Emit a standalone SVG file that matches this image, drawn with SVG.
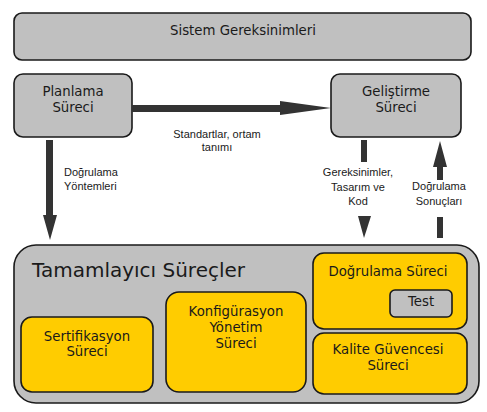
<svg xmlns="http://www.w3.org/2000/svg" width="487" height="412" viewBox="0 0 487 412">
<style>
.g{fill:#c0c0c0;stroke:#1a1a1a;stroke-width:1.6}
.y{fill:#ffcc00;stroke:#1a1a1a;stroke-width:1.6}
.t{font-family:"DejaVu Sans",Verdana,sans-serif;font-size:13.3px;fill:#1a1a1a;text-anchor:middle}
.l{font-family:"Liberation Sans",Arial,sans-serif;font-size:11px;fill:#1a1a1a}
.a{fill:#333}
</style>
<rect width="487" height="412" fill="#fff"/>
<g id="sistem"><rect class="g" x="14" y="13" width="457" height="47" rx="8"/><text class="t" x="243" y="35">Sistem Gereksinimleri</text></g>
<g id="planlama"><rect class="g" x="14" y="74" width="118" height="63" rx="9"/><text class="t" x="73" y="96">Planlama</text><text class="t" x="73" y="112">Süreci</text></g>
<g id="gelistirme"><rect class="g" x="331" y="74" width="130" height="63" rx="9"/><text class="t" x="396" y="96">Geliştirme</text><text class="t" x="396" y="112">Süreci</text></g>
<g id="tamamlayici"><rect class="g" x="14" y="245" width="465" height="158" rx="22"/><text x="32" y="277" style="font-family:'DejaVu Sans',Verdana,sans-serif;font-size:20px;fill:#1a1a1a">Tamamlayıcı Süreçler</text></g>
<g id="sertifikasyon"><rect class="y" x="21" y="317" width="132" height="75" rx="11"/><text class="t" x="87" y="341">Sertifikasyon</text><text class="t" x="87" y="356">Süreci</text></g>
<g id="konfigurasyon"><rect class="y" x="166" y="292" width="140" height="100" rx="13"/><text class="t" x="236" y="316">Konfigürasyon</text><text class="t" x="236" y="332">Yönetim</text><text class="t" x="236" y="348">Süreci</text></g>
<g id="dogrulama"><rect class="y" x="313" y="253" width="154" height="76" rx="11"/><text class="t" x="388" y="276">Doğrulama Süreci</text></g>
<g id="test"><rect class="g" x="390" y="290" width="62" height="27" rx="5"/><text class="t" x="421" y="306">Test</text></g>
<g id="kalite"><rect class="y" x="313" y="333" width="154" height="61" rx="11"/><text class="t" x="388" y="354">Kalite Güvencesi</text><text class="t" x="388" y="370">Süreci</text></g>
<g id="connectors">
<polygon class="a" points="132,105 280,105 280,101 331,108 280,115 280,112 132,112"/>
<text class="l" x="217" y="138" text-anchor="middle">Standartlar, ortam</text>
<text class="l" x="217" y="151" text-anchor="middle">tanımı</text>
<polygon class="a" points="46,140 53,140 53,215 57,215 50,240 43,215 46,215"/>
<text class="l" x="64" y="176">Doğrulama</text>
<text class="l" x="64" y="190">Yöntemleri</text>
<rect class="a" x="361" y="140" width="6" height="22"/>
<polygon class="a" points="358,216 371,216 364,238"/>
<text class="l" x="358" y="176" text-anchor="middle">Gereksinimler,</text>
<text class="l" x="358" y="191" text-anchor="middle">Tasarım ve</text>
<text class="l" x="358" y="205" text-anchor="middle">Kod</text>
<polygon class="a" points="440,141 447,167 443,167 443,180 437,180 437,167 433,167"/>
<rect class="a" x="437" y="217" width="6" height="21"/>
<text class="l" x="439" y="190" text-anchor="middle">Doğrulama</text>
<text class="l" x="439" y="205" text-anchor="middle">Sonuçları</text>
</g>
</svg>
